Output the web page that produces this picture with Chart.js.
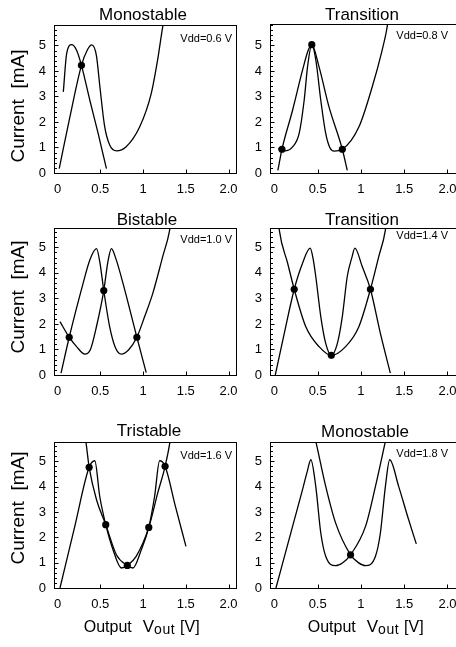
<!DOCTYPE html>
<html>
<head>
<meta charset="utf-8">
<script src="https://cdn.jsdelivr.net/npm/chart.js@4.4.0/dist/chart.umd.min.js"></script>
<style>
body{margin:0;width:456px;height:647px;overflow:hidden;background:#fff;position:relative;font-family:"Liberation Sans",Arial,sans-serif;color:#000}
canvas{position:absolute}
.ttl{position:absolute;width:200px;text-align:center;font-size:17px;line-height:20px}
.vdd{position:absolute;width:90px;text-align:right;font-size:11px;line-height:13px}
.ylab{position:absolute;font-size:19px;line-height:22px;white-space:pre;transform:translate(-50%,-50%) rotate(-90deg)}
.xlab{position:absolute;width:200px;text-align:center;font-size:16px;line-height:18px;white-space:nowrap}
.xlab .v{margin-left:11px;font-size:17px}
.xlab sub{font-size:14px;letter-spacing:0.5px;vertical-align:-2px;line-height:0}
.xlab .u{margin-left:5px}
</style>
</head>
<body>
<script>
// panel titles and supply voltages
const titles = ['Monostable', 'Transition', 'Bistable', 'Transition', 'Tristable', 'Monostable'];
const vddLabels = ['Vdd=0.6 V', 'Vdd=0.8 V', 'Vdd=1.0 V', 'Vdd=1.4 V', 'Vdd=1.6 V', 'Vdd=1.8 V'];
const xTickLabels = ['0', '0.5', '1', '1.5', '2.0'];
const xTickValues = [0, 0.5, 1, 1.5, 2];
const yTickValues = [0, 1, 2, 3, 4, 5];

// drive curve [V, mA]
const drive06 = [[0.02,0.17],[0.145,2.2],[0.28,4.22],[0.35,4.83],[0.40,5.02],[0.455,4.6],[0.495,3.4],[0.55,1.85],[0.61,1.1],[0.69,0.87],[0.80,1.02],[0.96,1.8],[1.095,3.1],[1.17,4.42],[1.23,5.73],[1.24,5.9]];
const drive08 = [[0.04,0.1],[0.087,0.93],[0.21,2.46],[0.325,4.03],[0.39,4.8],[0.432,5.03],[0.48,4.4],[0.536,2.85],[0.593,1.55],[0.64,1.0],[0.69,0.86],[0.785,0.93],[0.976,1.8],[1.13,3.37],[1.245,4.81],[1.30,5.66],[1.31,5.9]];
const drive10 = [[0.041,0.07],[0.137,1.48],[0.30,3.6],[0.378,4.51],[0.456,4.95],[0.494,4.44],[0.541,3.31],[0.61,1.89],[0.68,1.05],[0.746,0.82],[0.83,0.98],[0.928,1.48],[1.02,2.3],[1.114,3.2],[1.23,4.64],[1.308,5.62],[1.32,5.9]];
const drive14 = [[0.01,0.0],[0.114,1.63],[0.229,3.36],[0.325,4.38],[0.413,4.97],[0.445,4.6],[0.478,3.86],[0.536,2.29],[0.593,1.24],[0.658,0.77],[0.823,1.11],[0.976,1.89],[1.11,3.36],[1.206,4.64],[1.283,5.69],[1.29,5.9]];
const drive16 = [[0.029,0.0],[0.2,2.4],[0.37,4.76],[0.436,5.02],[0.494,3.61],[0.564,2.5],[0.649,1.51],[0.747,0.79],[0.816,0.89],[0.92,1.25],[1.067,2.39],[1.172,3.75],[1.258,4.8],[1.316,5.79],[1.32,5.9]];
const drive18 = [[0.018,0.0],[0.21,2.43],[0.315,3.75],[0.38,4.6],[0.421,5.06],[0.478,4.01],[0.536,2.17],[0.593,1.25],[0.708,0.88],[0.79,1.0],[0.88,1.31],[1.053,2.43],[1.168,4.01],[1.283,5.79],[1.29,5.9]];

// load curve [V, mA]
const load06 = [[0.068,3.18],[0.107,4.68],[0.165,5.03],[0.223,4.81],[0.28,4.22],[0.378,2.85],[0.475,1.55],[0.572,0.17]];
const load08 = [[0.045,0.97],[0.087,0.93],[0.13,0.87],[0.21,1.02],[0.286,1.55],[0.344,2.85],[0.383,4.16],[0.432,5.03],[0.516,4.16],[0.631,2.59],[0.785,0.93],[0.842,0.1]];
const load10 = [[0.029,2.09],[0.137,1.48],[0.223,1.11],[0.32,0.82],[0.385,1.0],[0.455,1.89],[0.541,3.31],[0.59,4.45],[0.63,4.95],[0.687,4.51],[0.765,3.6],[0.928,1.48],[1.037,0.09]];
const load14 = [[0.05,5.9],[0.056,5.69],[0.153,4.38],[0.229,3.36],[0.363,1.89],[0.516,1.11],[0.658,0.77],[0.727,1.23],[0.785,2.29],[0.842,3.86],[0.895,4.6],[0.93,4.97],[1.015,4.25],[1.11,3.36],[1.225,1.63],[1.34,0.07]];
const load16 = [[0.325,5.9],[0.331,5.79],[0.37,4.76],[0.456,3.48],[0.564,2.5],[0.69,1.3],[0.816,0.89],[0.882,0.79],[0.98,1.51],[1.067,2.39],[1.135,3.61],[1.194,5.02],[1.258,4.8],[1.38,3.2],[1.502,1.64]];
const load18 = [[0.47,5.9],[0.478,5.79],[0.593,4.01],[0.708,2.56],[0.88,1.31],[0.97,1.0],[1.053,0.88],[1.168,1.25],[1.225,2.17],[1.283,4.01],[1.333,5.06],[1.436,4.01],[1.551,2.7],[1.64,1.74]];

// operating points
const dots06 = [[0.28,4.22]];
const dots08 = [[0.087,0.93],[0.432,5.03],[0.785,0.93]];
const dots10 = [[0.137,1.48],[0.541,3.31],[0.928,1.48]];
const dots14 = [[0.229,3.36],[0.658,0.77],[1.11,3.36]];
const dots16 = [[0.37,4.76],[0.564,2.5],[0.816,0.89],[1.067,2.39],[1.258,4.8]];
const dots18 = [[0.88,1.31]];

const drives = [drive06, drive08, drive10, drive14, drive16, drive18];
const loads = [load06, load08, load10, load14, load16, load18];
const dots = [dots06, dots08, dots10, dots14, dots16, dots18];

// layout: plot box of each panel in page pixels
const layout = [
  {col:0, top:25,  h:148, ymax:5.8,  tx:143, ty:5,   vx:232, vy:38},
  {col:1, top:24,  h:149, ymax:5.84, tx:362, ty:5,   vx:448, vy:35},
  {col:0, top:228, h:147, ymax:5.76, tx:147, ty:210, vx:232, vy:239},
  {col:1, top:228, h:147, ymax:5.76, tx:362, ty:210, vx:448, vy:235},
  {col:0, top:442, h:146, ymax:5.76, tx:149, ty:421, vx:232, vy:455},
  {col:1, top:442, h:146, ymax:5.76, tx:365, ty:422, vx:448, vy:453}
];
const cols = [
  {left:14,  width:226, padRight:3, xmin:-0.041, xmax:2.087},
  {left:230, width:230, padRight:3, xmin:-0.051, xmax:2.099}
];

const frame = {
  id: 'frame',
  afterDraw(chart) {
    const ctx = chart.ctx, a = chart.chartArea;
    const x = chart.scales.x, y = chart.scales.y;
    const l = Math.round(a.left) + 0.5, r = Math.round(a.right) + 0.5;
    const t = Math.round(a.top) + 0.5, b = Math.round(a.bottom) + 0.5;
    ctx.save();
    ctx.strokeStyle = '#000';
    ctx.lineWidth = 1;
    ctx.strokeRect(l, t, r - l, b - t);
    ctx.beginPath();
    xTickValues.forEach(v => {
      if (v === 0) return;
      const px = Math.round(x.getPixelForValue(v)) + 0.5;
      ctx.moveTo(px, b); ctx.lineTo(px, b - 4);
    });
    for (let v = 0.2; v < y.max; v += 0.2) {
      const py = Math.round(y.getPixelForValue(v)) + 0.5;
      const len = Math.abs(v - Math.round(v)) < 0.01 ? 4 : 2.5;
      ctx.moveTo(l, py); ctx.lineTo(l + len, py);
    }
    ctx.stroke();
    ctx.restore();
  }
};

function addDiv(cls, html, style) {
  const d = document.createElement('div');
  d.className = cls;
  d.innerHTML = html;
  Object.assign(d.style, style);
  document.body.appendChild(d);
}

function toPts(arr) { return arr.map(p => ({x: p[0], y: p[1]})); }

layout.forEach(function(L, i) {
  const c = cols[L.col];
  const canvas = document.createElement('canvas');
  const H = 5 + L.h + 30;
  canvas.width = c.width; canvas.height = H;
  canvas.style.left = c.left + 'px';
  canvas.style.top = (L.top - 5) + 'px';
  document.body.appendChild(canvas);

  const lineStyle = {showLine: true, borderColor: '#000', borderWidth: 1.3, pointRadius: 0, cubicInterpolationMode: 'monotone', fill: false};
  new Chart(canvas.getContext('2d'), {
    type: 'scatter',
    data: {
      datasets: [
        Object.assign({data: toPts(drives[i])}, lineStyle),
        Object.assign({data: toPts(loads[i])}, lineStyle),
        {data: toPts(dots[i]), showLine: false, pointRadius: 3.6, pointBackgroundColor: '#000', pointBorderColor: '#000', pointBorderWidth: 0}
      ]
    },
    options: {
      responsive: false,
      animation: false,
      devicePixelRatio: 1,
      layout: {padding: {top: 5, right: c.padRight, left: 0, bottom: 0}},
      plugins: {legend: {display: false}, tooltip: {enabled: false}},
      scales: {
        x: {
          type: 'linear', min: c.xmin, max: c.xmax,
          grid: {display: false, drawTicks: false}, border: {display: false},
          afterBuildTicks: s => { s.ticks = xTickValues.map(v => ({value: v})); },
          afterFit: s => { s.height = 30; s.paddingLeft = 0; s.paddingRight = 0; },
          ticks: {padding: 9, maxRotation: 0, autoSkip: false, color: '#000',
            font: {family: 'Liberation Sans', size: 13},
            callback: (v, idx) => xTickLabels[idx]}
        },
        y: {
          type: 'linear', min: 0, max: L.ymax,
          grid: {display: false, drawTicks: false}, border: {display: false},
          afterBuildTicks: s => { s.ticks = yTickValues.map(v => ({value: v})); },
          afterFit: s => { s.width = 40; s.paddingTop = 0; s.paddingBottom = 0; },
          ticks: {padding: 8, autoSkip: false, color: '#000',
            font: {family: 'Liberation Sans', size: 13},
            callback: v => String(v)}
        }
      }
    },
    plugins: [frame]
  });

  addDiv('ttl', titles[i], {left: (L.tx - 100) + 'px', top: L.ty + 'px'});
  addDiv('vdd', vddLabels[i], {left: (L.vx - 90) + 'px', top: (L.vy - 6) + 'px'});
});

// axis titles
[105.7, 296.7, 507.5].forEach(cy => addDiv('ylab', 'Current  [mA]', {left: '17.5px', top: cy + 'px'}));
[141.7, 365.7].forEach(cx => addDiv('xlab', '<span>Output</span><span class="v">V</span><sub>out</sub><span class="u">[V]</span>', {left: (cx - 100) + 'px', top: '617.7px'}));
</script>
</body>
</html>
